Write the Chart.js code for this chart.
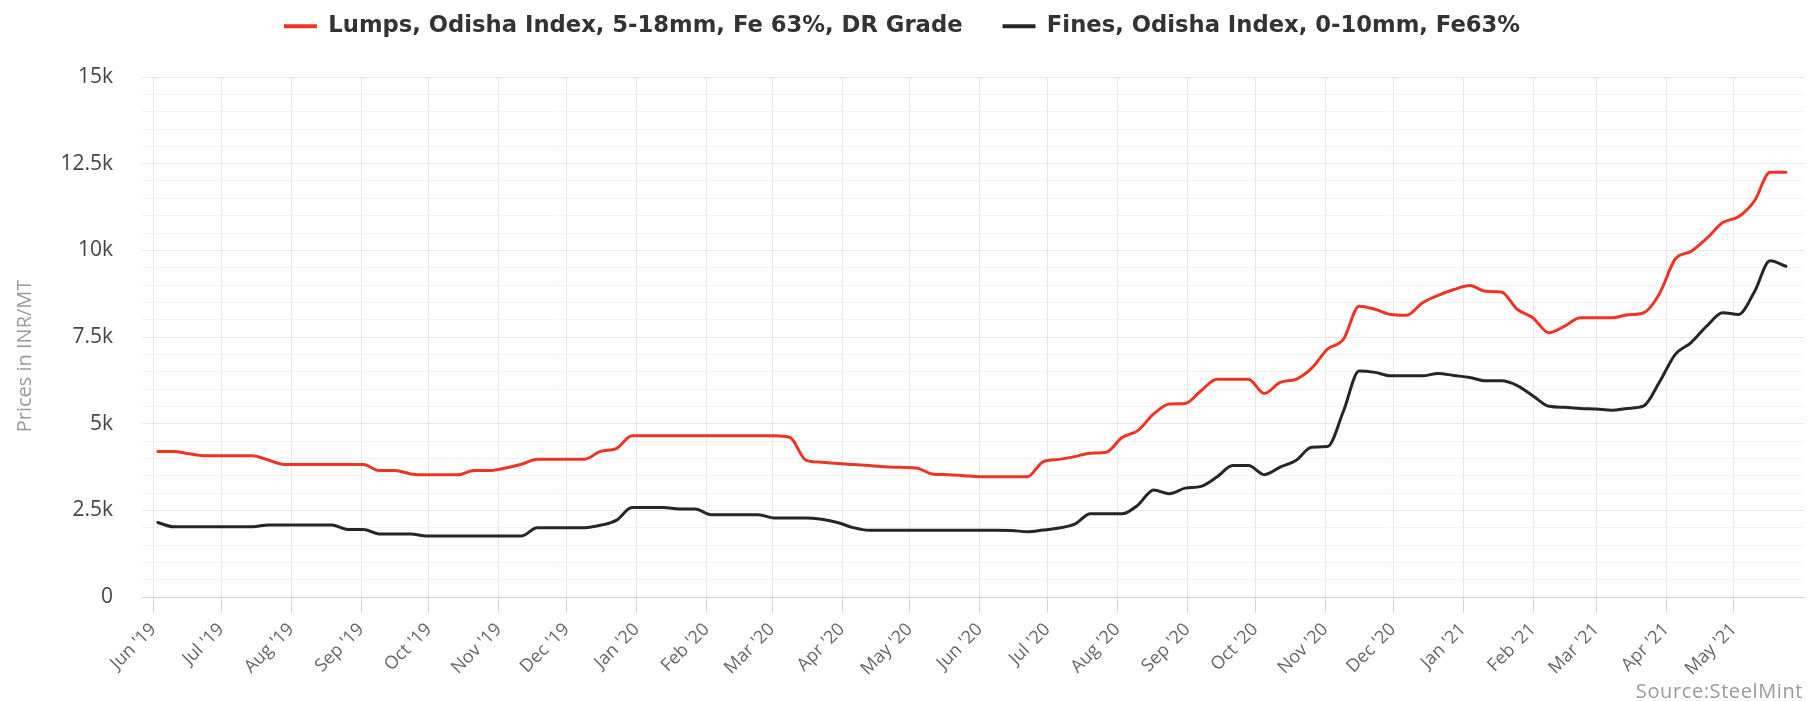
<!DOCTYPE html>
<html><head><meta charset="utf-8">
<script src="https://cdn.jsdelivr.net/npm/chart.js@4.4.1/dist/chart.umd.min.js"></script>
<style>
html,body{margin:0;padding:0;background:#fff;}
#wrap{position:relative;width:1820px;height:701px;}
#source{position:absolute;right:17px;top:677px;font-family:'Open Sans',sans-serif;font-size:20px;letter-spacing:0.6px;line-height:27px;color:#9a9a9a;white-space:nowrap;}
</style></head><body>
<div id="wrap"><canvas id="c" width="1820" height="701"></canvas><div id="source">Source:SteelMint</div></div>
<script>
// ---- data (weekly prices, INR/MT) ----
const firstWeek = '2019-06-03';
const seriesNames = ['Lumps, Odisha Index, 5-18mm, Fe 63%, DR Grade', 'Fines, Odisha Index, 0-10mm, Fe63%'];
const lumps = [4200,4200,4130,4075,4075,4075,4075,3950,3825,3825,3825,3825,3825,3825,3650,3650,3550,3525,3525,3525,
  3650,3650,3720,3830,3975,3975,3975,3975,4200,4280,4650,4650,4650,4650,4650,4650,4650,4650,4650,4650,
  4600,3950,3890,3850,3820,3790,3760,3740,3720,3550,3530,3500,3470,3470,3470,3470,3900,3970,4050,4150,
  4175,4600,4800,5280,5570,5585,5950,6280,6280,6280,5870,6190,6280,6600,7150,7430,8390,8300,8150,8130,
  8480,8700,8870,8985,8820,8800,8300,8050,7625,7815,8055,8055,8055,8140,8200,8750,9750,9970,10350,10800,
  10970,11420,12250,12250];
const fines = [2150,2025,2025,2025,2025,2025,2025,2080,2080,2080,2080,2080,1950,1950,1820,1820,1820,1760,1760,1760,
  1760,1760,1760,1760,2000,2000,2000,2000,2070,2210,2580,2580,2580,2540,2540,2375,2375,2375,2375,2280,
  2280,2280,2240,2150,2000,1925,1925,1925,1925,1925,1925,1925,1925,1925,1920,1880,1930,1990,2100,2400,
  2400,2400,2650,3090,2980,3140,3190,3460,3790,3790,3530,3745,3940,4320,4340,5350,6520,6480,6380,6380,
  6380,6450,6390,6330,6235,6235,6100,5800,5500,5470,5440,5420,5390,5440,5510,6200,7000,7340,7820,8200,
  8150,8800,9700,9540];
const monthTicks = ['2019-06-01','2019-07-01','2019-08-01','2019-09-01','2019-10-01','2019-11-01','2019-12-01',
  '2020-01-01','2020-02-01','2020-03-01','2020-04-01','2020-05-01','2020-06-01','2020-07-01','2020-08-01',
  '2020-09-01','2020-10-01','2020-11-01','2020-12-01','2021-01-01','2021-02-01','2021-03-01','2021-04-01','2021-05-01'];
const monthLabels = ["Jun '19","Jul '19","Aug '19","Sep '19","Oct '19","Nov '19","Dec '19","Jan '20","Feb '20","Mar '20","Apr '20","May '20",
  "Jun '20","Jul '20","Aug '20","Sep '20","Oct '20","Nov '20","Dec '20","Jan '21","Feb '21","Mar '21","Apr '21","May '21"];
const yTickValues = [0,2500,5000,7500,10000,12500,15000];
const yTickLabels = ['0','2.5k','5k','7.5k','10k','12.5k','15k'];
const yTitle = 'Prices in INR/MT';

// ---- helpers ----
const ORIGIN = Date.UTC(2019,5,1);
const dayOf = s => { const [y,m,d] = s.split('-').map(Number); return (Date.UTC(y,m-1,d) - ORIGIN) / 86400000; };
const weekDays = lumps.map((_, i) => dayOf(firstWeek) + 7 * i);
const tickDays = monthTicks.map(dayOf);
const tickLabelOf = new Map(tickDays.map((d, i) => [d, monthLabels[i]]));
const yLabelOf = new Map(yTickValues.map((v, i) => [v, yTickLabels[i]]));

const LEGEND_GAP = 40;
const legendTweak = {
  id: 'legendTweak',
  beforeInit(chart) {
    const lg = chart.legend;
    const fit = lg.fit;
    lg.fit = function () { fit.call(this); this.height = 77; };
    const draw = lg.draw;
    lg.draw = function () {
      const ctx = this.ctx; ctx.save(); ctx.translate(0, -25); draw.apply(this, arguments); ctx.restore();
    };
  },
  beforeDraw(chart) {
    const s = chart.scales.y;
    if (s && !s._titleShifted) {
      const dt = s.drawTitle;
      s.drawTitle = function () { const ctx = this.ctx; ctx.save(); ctx.translate(0, 19); dt.apply(this, arguments); ctx.restore(); };
      s._titleShifted = true;
    }
  }
};

new Chart(document.getElementById('c'), {
  type: 'line',
  data: {
    datasets: [
      { label: seriesNames[0], data: weekDays.map((d, i) => ({x: d, y: lumps[i]})), borderColor: '#ee3524', backgroundColor: '#ee3524' },
      { label: seriesNames[1], data: weekDays.map((d, i) => ({x: d, y: fines[i]})), borderColor: '#262626', backgroundColor: '#262626' }
    ]
  },
  plugins: [legendTweak],
  options: {
    responsive: false,
    animation: false,
    devicePixelRatio: 1,
    layout: { padding: { top: 0, right: 16, bottom: 0, left: 0 } },
    elements: { point: { radius: 0, hoverRadius: 0 }, line: { borderWidth: 3, cubicInterpolationMode: 'monotone', borderCapStyle: 'round', borderJoinStyle: 'round' } },
    plugins: {
      tooltip: { enabled: false },
      legend: {
        position: 'top', align: 'center',
        labels: {
          boxWidth: 33, boxHeight: 4, padding: LEGEND_GAP, color: '#333',
          font: { family: "'DejaVu Sans', sans-serif", size: 22.7, weight: 'bold' },
          generateLabels(chart) {
            const items = Chart.defaults.plugins.legend.labels.generateLabels(chart);
            items.forEach(it => { it.fillStyle = it.strokeStyle; it.lineWidth = 0; });
            return items;
          }
        }
      }
    },
    scales: {
      x: {
        type: 'linear', min: -5, max: 731,
        afterBuildTicks(scale) { scale.ticks = tickDays.map(v => ({ value: v })); },
        afterFit(scale) { scale.height = 104; },
        grid: { color: '#e6e6e6', tickColor: '#ccd6eb', tickLength: 16, drawTicks: true },
        border: { color: '#ccd6eb', width: 1 },
        ticks: {
          autoSkip: false, maxRotation: 45, minRotation: 45, padding: 6,
          color: '#666', font: { family: "'Open Sans', sans-serif", size: 18 },
          callback: v => tickLabelOf.get(v) ?? ''
        }
      },
      y: {
        min: 0, max: 15000,
        afterFit(scale) { scale.width = 142; },
        grid: { color: ctx => (ctx.tick && yLabelOf.has(ctx.tick.value)) ? '#e6e6e6' : '#f3f3f3', drawTicks: false },
        border: { display: false },
        ticks: {
          stepSize: 500, autoSkip: false, padding: 29,
          color: '#444', font: { family: "'Open Sans', sans-serif", size: 21 },
          callback: v => yLabelOf.get(v) ?? ''
        },
        title: { display: true, text: yTitle, color: '#9a9a9a', font: { family: "'Open Sans', sans-serif", size: 20 }, padding: { top: 13, bottom: 0 } }
      }
    }
  }
});
</script>
</body></html>
